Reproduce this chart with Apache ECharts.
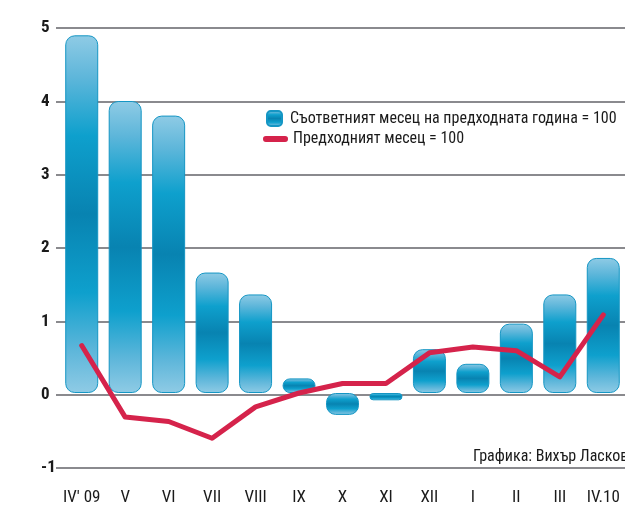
<!DOCTYPE html>
<html>
<head>
<meta charset="utf-8">
<script src="https://cdn.jsdelivr.net/npm/echarts@6/dist/echarts.min.js"></script>
<style>
  html, body { margin: 0; padding: 0; background: #fff; }
  #chart { width: 625px; height: 506px; }
</style>
</head>
<body>
<div id="chart"></div>
<script>
const categories = ["IV' 09", 'V', 'VI', 'VII', 'VIII', 'IX', 'X', 'XI', 'XII', 'I', 'II', 'III', 'IV.10']
// same month of previous year = 100
const yearOnYear = [4.9, 4.0, 3.8, 1.65, 1.35, 0.2, -0.3, -0.1, 0.6, 0.4, 0.95, 1.35, 1.85]
// previous month = 100
const monthOnMonth = [0.65, -0.33, -0.39, -0.62, -0.19, 0.0, 0.13, 0.13, 0.55, 0.63, 0.58, 0.22, 1.07]
const yTicks = [-1, 0, 1, 2, 3, 4, 5]

const nameBar = 'Съответният месец на предходната година = 100'
const nameLine = 'Предходният месец = 100'

const FONT = "'Roboto Condensed', 'DejaVu Sans Condensed', sans-serif"

const barGradient = new echarts.graphic.LinearGradient(0, 0, 0, 1, [
  { offset: 0, color: '#8fcbe5' },
  { offset: 0.12, color: '#5db6da' },
  { offset: 0.28, color: '#0ea0cd' },
  { offset: 0.5, color: '#0883b1' },
  { offset: 0.72, color: '#0ea0cd' },
  { offset: 0.88, color: '#5db6da' },
  { offset: 1, color: '#8fcbe5' },
])

const chart = echarts.init(document.getElementById('chart'))

chart.setOption({
  animation: false,
  textStyle: { fontFamily: FONT },
  grid: [
    // gridlines + y labels
    { left: 56, right: 0, top: 28, bottom: 38 },
    // bars and line
    { left: 60, width: 566, top: 28, bottom: 38 },
  ],
  legend: [
    {
      data: [nameBar],
      left: 261,
      top: 105,
      icon: 'roundRect',
      itemWidth: 15,
      itemHeight: 15,
      textStyle: { fontFamily: FONT, fontSize: 16, color: '#1a1a1a', padding: [0, 0, 0, 3] },
    },
    {
      data: [nameLine],
      left: 258,
      top: 126,
      icon: 'path://M3,0 L23,0 A3,3 0 0 1 23,6 L3,6 A3,3 0 0 1 3,0 Z',
      itemWidth: 25,
      itemHeight: 6,
      textStyle: { fontFamily: FONT, fontSize: 16, color: '#1a1a1a' },
    },
  ],
  xAxis: [
    { gridIndex: 0, type: 'value', show: false, min: 0, max: 1 },
    {
      gridIndex: 1,
      type: 'category',
      data: categories,
      axisLine: { show: false },
      axisTick: { show: false },
      axisLabel: {
        interval: 0,
        margin: 23,
        fontSize: 17,
        color: '#1a1a1a',
        fontFamily: FONT,
      },
    },
  ],
  yAxis: [
    {
      gridIndex: 0,
      type: 'value',
      min: yTicks[0],
      max: yTicks[yTicks.length - 1],
      interval: 1,
      axisLine: { show: false },
      axisTick: { show: false },
      splitLine: { lineStyle: { color: '#8a8a8e', width: 2 } },
      axisLabel: {
        align: 'left',
        margin: 15,
        fontSize: 17,
        fontWeight: 'bold',
        color: '#1a1a1a',
        fontFamily: FONT,
      },
    },
    {
      gridIndex: 1,
      type: 'value',
      min: yTicks[0],
      max: yTicks[yTicks.length - 1],
      interval: 1,
      show: false,
      splitLine: { show: false },
    },
  ],
  series: [
    {
      name: nameBar,
      type: 'bar',
      xAxisIndex: 1,
      yAxisIndex: 1,
      data: yearOnYear,
      barWidth: 33,
      itemStyle: {
        color: barGradient,
        borderColor: '#1596c4',
        borderWidth: 1,
        borderRadius: 9,
      },
      z: 2,
    },
    {
      name: nameLine,
      type: 'line',
      xAxisIndex: 1,
      yAxisIndex: 1,
      data: monthOnMonth,
      symbol: 'none',
      color: '#d5234b',
      lineStyle: { color: '#d5234b', width: 5, cap: 'round', join: 'round' },
      z: 5,
    },
  ],
  graphic: [
    {
      type: 'text',
      left: 473,
      top: 449,
      style: {
        text: 'Графика: Вихър Ласков',
        font: '16px ' + FONT,
        fill: '#1a1a1a',
      },
    },
  ],
})
</script>
</body>
</html>
